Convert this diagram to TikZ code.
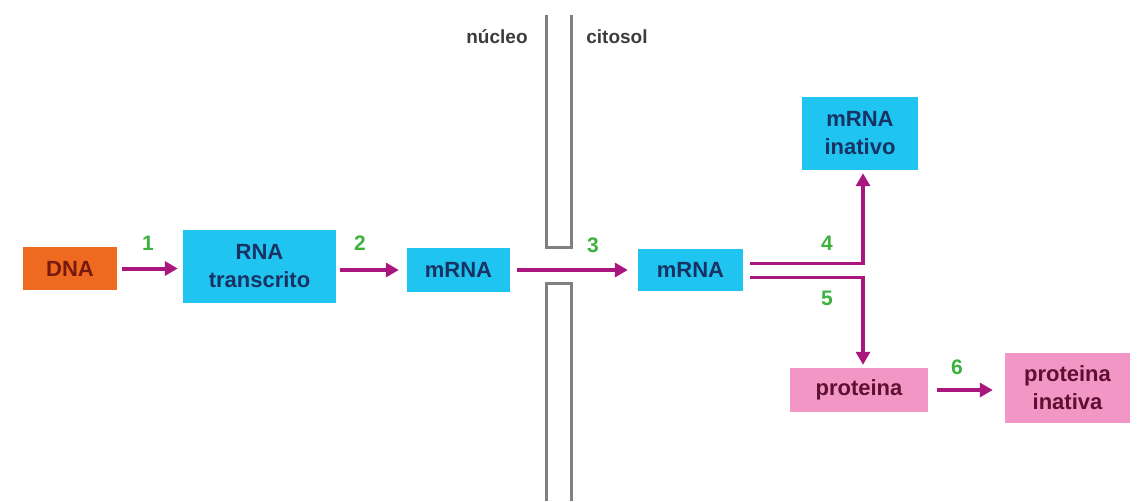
\documentclass[tikz,border=0pt]{standalone}
\usepackage{fontspec}
\setmainfont{Liberation Sans}
\usetikzlibrary{arrows.meta}

\definecolor{orangebox}{RGB}{238,106,32}
\definecolor{cyanbox}{RGB}{32,196,240}
\definecolor{pinkbox}{RGB}{242,150,198}
\definecolor{arrowpurple}{RGB}{168,22,126}
\definecolor{numgreen}{RGB}{60,178,60}
\definecolor{membgray}{RGB}{128,128,128}

\tikzset{
  box/.style={inner sep=0pt,align=center,font=\fontsize{22}{28}\selectfont\bfseries},
  dnabox/.style={box,fill=orangebox,text={rgb,255:red,120;green,25;blue,15}},
  rnabox/.style={box,fill=cyanbox,text={rgb,255:red,25;green,50;blue,100}},
  protbox/.style={box,fill=pinkbox,text={rgb,255:red,95;green,15;blue,50}},
  flow/.style={draw=arrowpurple,line width=4pt,-{Triangle[length=13pt,width=14pt]}},
  flowline/.style={draw=arrowpurple,line width=3pt},
  num/.style={text=numgreen,font=\fontsize{21}{24}\selectfont\bfseries},
  membrane/.style={draw=membgray,line width=3pt},
  side/.style={text={rgb,255:red,60;green,60;blue,60},font=\fontsize{19}{22}\selectfont\bfseries}
}

\begin{document}
\begin{tikzpicture}[x=1pt,y=1pt,yscale=-1]
\path[use as bounding box] (0,0) rectangle (1138,501);

%Membrane
\draw[membrane] (546,15) -- (546,247) -- (571,247) -- (571,15);
\draw[membrane] (546,501) -- (546,283) -- (571,283) -- (571,501);
\node[side] (nucleo) at (497,37) {núcleo};
\node[side] (citosol) at (617,37) {citosol};

%Boxes
\node[dnabox,minimum width=94pt,minimum height=43pt] (dna) at (70,268.5) {DNA};
\node[rnabox,minimum width=153pt,minimum height=73pt] (rna) at (259.5,266.5) {RNA\\transcrito};
\node[rnabox,minimum width=103pt,minimum height=44pt] (mrnaA) at (458.5,270) {mRNA};
\node[rnabox,minimum width=105pt,minimum height=42pt] (mrnaB) at (690.5,270) {mRNA};
\node[rnabox,minimum width=116pt,minimum height=73pt] (mrnainat) at (860,133.5) {mRNA\\inativo};
\node[protbox,minimum width=138pt,minimum height=44pt] (prot) at (859,390) {proteina};
\node[protbox,minimum width=125pt,minimum height=70pt] (protinat) at (1067.5,388) {proteina\\inativa};

%Arrows
\draw[flow,shorten <=5pt,shorten >=5pt] (dna) -- (dna -| rna.west);
\draw[flow,shorten <=4pt,shorten >=8pt] (rna.east |- mrnaA) -- (mrnaA);
\draw[flow,shorten <=7pt,shorten >=10pt] (mrnaA) -- (mrnaB);
\draw[flow,shorten <=9pt,shorten >=12pt] (prot) -- (prot -| protinat.west);

%Split
\coordinate (split4) at (750,263);
\coordinate (split5) at (750,277);
\coordinate (turn4) at (863,264.5);
\coordinate (turn5) at (863,275.5);
\draw[flowline] (split4) -- (864.5,263);
\draw[flowline] (split5) -- (864.5,277);
\draw[flow,shorten >=3pt] (turn4) -- (turn4 |- mrnainat.south);
\draw[flow,shorten >=3pt] (turn5) -- (turn5 |- prot.north);

% Text Node
\node[num] (n1) at (148,243) {1};
\node[num] (n2) at (360,243) {2};
\node[num] (n3) at (593,245) {3};
\node[num] (n4) at (827,243) {4};
\node[num] (n5) at (827,298) {5};
\node[num] (n6) at (957,367) {6};

\end{tikzpicture}
\end{document}
